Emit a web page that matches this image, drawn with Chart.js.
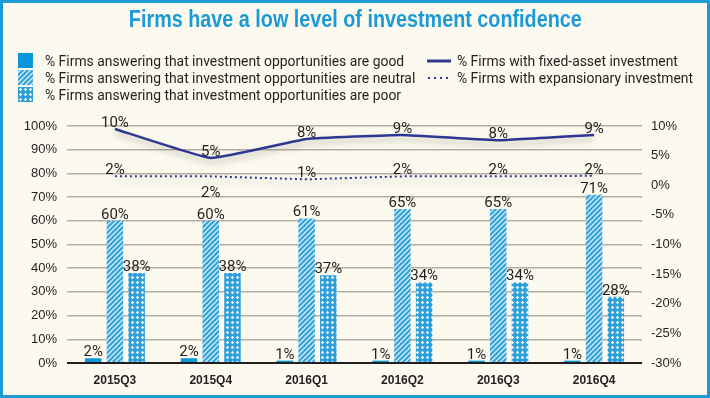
<!DOCTYPE html>
<html>
<head>
<meta charset="utf-8">
<script src="https://cdn.jsdelivr.net/npm/chart.js@4.4.1/dist/chart.umd.min.js"></script>
<style>
  html, body { margin: 0; padding: 0; background: #fcf9ee; }
  #wrap { position: relative; width: 710px; height: 398px; background: #fcf9ee; overflow: hidden; }
  #chart { position: absolute; left: 0; top: 0; }
  #frame { position: absolute; left: 0; top: 0; right: 0; bottom: 0; border: 3px solid #1e9bd7; pointer-events: none; }
  #title { position: absolute; left: 0; right: 0; top: 6px; text-align: center; }
  h1 { display: inline-block; margin: 0; transform: scaleX(0.86);
       font: bold 23px "Liberation Sans Narrow", "Liberation Sans", sans-serif; color: #1b9ad7; }
  .leg { position: absolute; font: 13.9px Roboto, sans-serif; color: #231f20; white-space: nowrap; }
  .leg div { height: 17px; display: flex; align-items: center; }
  .leg canvas { display: block; }
</style>
</head>
<body>
<div id="wrap">
  <canvas id="chart" width="710" height="398"></canvas>
  <div id="title"><h1>Firms have a low level of investment confidence</h1></div>
  <div class="leg" id="legLeft" style="left:18px; top:52px;"></div>
  <div class="leg" id="legRight" style="left:427px; top:52px;"></div>
  <div id="frame"></div>
</div>
<script>
// data
const quarters = ['2015Q3', '2015Q4', '2016Q1', '2016Q2', '2016Q3', '2016Q4'];
const goodShare = [2, 2, 1, 1, 1, 1];
const neutralShare = [60, 60, 61, 65, 65, 71];
const poorShare = [38, 38, 37, 34, 34, 28];
const fixedAsset = [9.5, 4.6, 7.8, 8.5, 7.6, 8.5];
const expansionary = [1.5, 1.5, 1.0, 1.5, 1.5, 1.6];

const seriesNames = [
  '% Firms answering that investment opportunities are good',
  '% Firms answering that investment opportunities are neutral',
  '% Firms answering that investment opportunities are poor',
  '% Firms with fixed-asset investment',
  '% Firms with expansionary investment'
];

const BLUE = '#0b96d9';
const NAVY = '#2e3791';
const ctx = document.getElementById('chart').getContext('2d');

function makePattern(kind, g0) {
  const s = 5;
  const c = document.createElement('canvas');
  c.width = s; c.height = s;
  const g = c.getContext('2d');
  if (kind === 'stripe') {
    g.fillStyle = '#d4ecf8';
    g.fillRect(0, 0, s, s);
    g.strokeStyle = '#33a3dc';
    g.lineWidth = 2.2;
    g.beginPath();
    g.moveTo(0, s); g.lineTo(s, 0);
    g.moveTo(-s / 2, s / 2); g.lineTo(s / 2, -s / 2);
    g.moveTo(s / 2, s * 1.5); g.lineTo(s * 1.5, s / 2);
    g.stroke();
  } else {
    // blue lattice with light diamond holes
    g.fillStyle = '#2c9fdb';
    g.fillRect(0, 0, s, s);
    g.fillStyle = '#eef8fc';
    g.beginPath();
    g.moveTo(s / 2, s / 2 - 1.7); g.lineTo(s / 2 + 1.7, s / 2);
    g.lineTo(s / 2, s / 2 + 1.7); g.lineTo(s / 2 - 1.7, s / 2);
    g.closePath();
    g.fill();
  }
  return (g0 || ctx).createPattern(c, 'repeat');
}

const stripe = makePattern('stripe');
const hatch = makePattern('hatch');

// legend in html
function swatch(w, h, draw) {
  const c = document.createElement('canvas');
  c.width = w; c.height = h;
  draw(c.getContext('2d'), w, h);
  return c;
}
function legRow(parent, sw, gap, text) {
  const row = document.createElement('div');
  sw.style.marginRight = gap + 'px';
  row.appendChild(sw);
  const t = document.createElement('span');
  t.textContent = text;
  row.appendChild(t);
  parent.appendChild(row);
}
const legLeft = document.getElementById('legLeft');
const legRight = document.getElementById('legRight');
legRow(legLeft, swatch(15, 15, (g, w, h) => { g.fillStyle = BLUE; g.fillRect(0, 0, w, h); }), 12, seriesNames[0]);
legRow(legLeft, swatch(15, 15, (g, w, h) => { g.fillStyle = makePattern('stripe', g); g.fillRect(0, 0, w, h); }), 12, seriesNames[1]);
legRow(legLeft, swatch(15, 15, (g, w, h) => { g.fillStyle = makePattern('hatch', g); g.fillRect(0, 0, w, h); }), 12, seriesNames[2]);
legRow(legRight, swatch(24, 8, (g, w, h) => {
  g.strokeStyle = NAVY; g.lineWidth = 3; g.beginPath(); g.moveTo(0, 4); g.lineTo(w, 4); g.stroke();
}), 6, seriesNames[3]);
legRow(legRight, swatch(24, 8, (g, w, h) => {
  g.fillStyle = NAVY; for (let x = 1; x < w; x += 6) g.fillRect(x, 3, 2, 2);
}), 6, seriesNames[4]);

// shadow under the lines
const lineShadow = {
  id: 'lineShadow',
  beforeDatasetDraw(chart, args) {
    if (chart.data.datasets[args.index].type !== 'line') return;
    const c = chart.ctx;
    c.save();
    c.shadowColor = 'rgba(60,60,60,0.35)';
    c.shadowBlur = 6;
    c.shadowOffsetY = 4;
  },
  afterDatasetDraw(chart, args) {
    if (chart.data.datasets[args.index].type !== 'line') return;
    chart.ctx.restore();
  }
};

// value labels above bars and points
const valueLabels = {
  id: 'valueLabels',
  afterDatasetsDraw(chart) {
    const c = chart.ctx;
    c.save();
    c.font = '15px Roboto, sans-serif';
    c.fillStyle = '#231f20';
    c.textAlign = 'center';
    c.textBaseline = 'alphabetic';
    chart.data.datasets.forEach((ds, i) => {
      const meta = chart.getDatasetMeta(i);
      meta.data.forEach((el, j) => {
        const text = Math.round(ds.data[j]) + '%';
        let y = el.y - 2;
        if (ds.labelBelow && ds.labelBelow[j]) y = el.y + 21;
        c.fillText(text, el.x, y);
      });
    });
    c.restore();
  }
};

const tickFont = { family: '"Liberation Sans Narrow", "Liberation Sans", sans-serif', size: 13 };

new Chart(ctx, {
  type: 'bar',
  data: {
    labels: quarters,
    datasets: [
      { type: 'line', label: seriesNames[3], data: fixedAsset, yAxisID: 'y1',
        borderColor: NAVY, borderWidth: 2.5, pointRadius: 0, tension: 0.1, order: 0 },
      { type: 'line', label: seriesNames[4], data: expansionary, yAxisID: 'y1',
        borderColor: NAVY, borderWidth: 2, borderDash: [2, 3], pointRadius: 0, order: 0,
        labelBelow: [false, true, false, false, false, false] },
      { type: 'bar', label: seriesNames[0], data: goodShare, yAxisID: 'y', backgroundColor: BLUE, order: 1 },
      { type: 'bar', label: seriesNames[1], data: neutralShare, yAxisID: 'y', backgroundColor: stripe, order: 1 },
      { type: 'bar', label: seriesNames[2], data: poorShare, yAxisID: 'y', backgroundColor: hatch, order: 1 }
    ]
  },
  options: {
    responsive: false,
    animation: false,
    layout: { padding: { top: 126, left: 0, right: 0, bottom: 0 } },
    plugins: { legend: { display: false }, tooltip: { enabled: false } },
    datasets: { bar: { barPercentage: 0.76, categoryPercentage: 0.68 } },
    scales: {
      x: {
        grid: { display: false, drawTicks: false },
        border: { display: false },
        ticks: { padding: 10, color: '#231f20',
                 font: { family: tickFont.family, size: 12, weight: 'bold' } },
        afterFit: s => { s.height = 35; }
      },
      y: {
        position: 'left', min: 0, max: 100,
        ticks: { stepSize: 10, padding: 10, color: '#231f20', font: tickFont, callback: v => v + '%' },
        grid: { drawTicks: false,
                color: c => c.tick && c.tick.value === 0 ? '#231f20' : '#b3afa5',
                lineWidth: c => c.tick && c.tick.value === 0 ? 2 : 1.5 },
        border: { display: false },
        afterFit: s => { s.width = 67; }
      },
      y1: {
        position: 'right', min: -30, max: 10,
        ticks: { stepSize: 5, padding: 9, color: '#231f20', font: tickFont, callback: v => v + '%' },
        grid: { display: false, drawTicks: false },
        border: { display: false },
        afterFit: s => { s.width = 68; }
      }
    }
  },
  plugins: [lineShadow, valueLabels]
});
</script>
</body>
</html>
